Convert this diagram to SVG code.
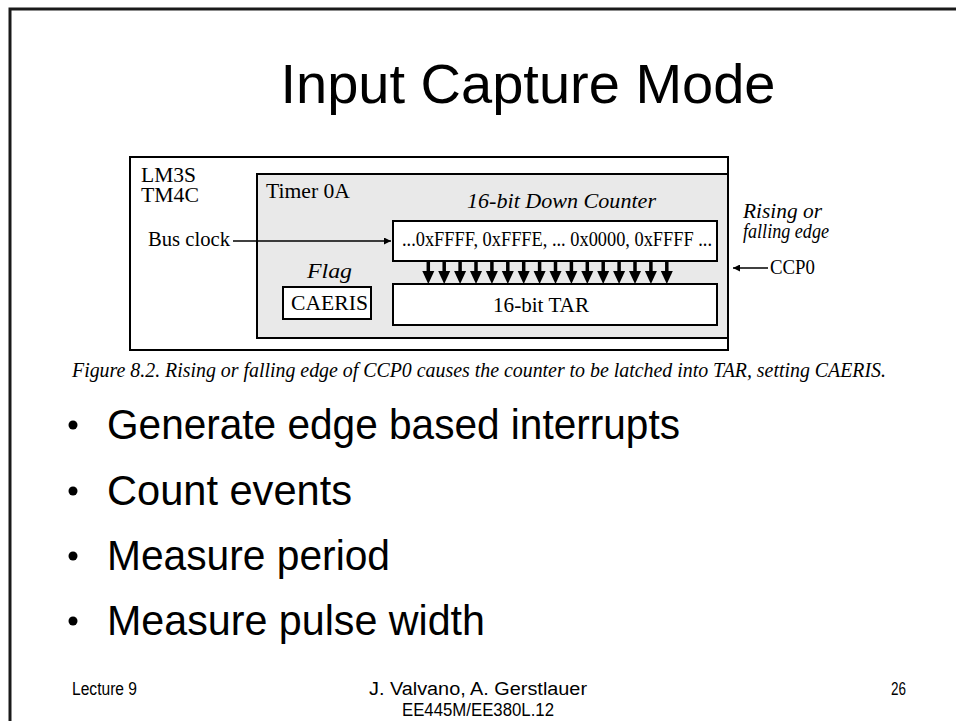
<svg xmlns="http://www.w3.org/2000/svg" width="956" height="721" viewBox="0 0 956 721">
<defs>
<style>
.sans{font-family:"Liberation Sans",Arial,sans-serif;fill:#000}
.serif{font-family:"Liberation Serif","Times New Roman",serif;fill:#000;font-size:20.5px}
.it{font-style:italic}
.box{fill:#fff;stroke:#000;stroke-width:2}
.wire{stroke:#000;stroke-width:1.5;fill:none}
.bus{stroke:#000;stroke-width:3.5;fill:none}
</style>
<marker id="ah" viewBox="0 0 10 10" refX="10" refY="5" markerWidth="11" markerHeight="7" markerUnits="userSpaceOnUse" orient="auto">
<path d="M0,0 L10,5 L0,10 Z" fill="#000"/>
</marker>
<g id="bigArrow">
<line x1="0" y1="262" x2="0" y2="273" class="bus"/>
<path d="M-6,271 L6,271 L0,284 Z" fill="#000"/>
</g>
</defs>
<rect width="956" height="721" fill="#fff"/>
<!-- slide frame -->
<path d="M10,721 V9 H956" fill="none" stroke="#1a1a1a" stroke-width="3"/>
<text class="sans" x="528" y="103" font-size="56" text-anchor="middle">Input Capture Mode</text>

<g id="chip">
<rect x="130" y="157" width="598" height="193" class="box"/>
<text class="serif" x="141" y="182" textLength="55" lengthAdjust="spacingAndGlyphs">LM3S</text>
<text class="serif" x="141" y="202" textLength="58" lengthAdjust="spacingAndGlyphs">TM4C</text>
</g>
<g id="timer">
<rect x="257" y="174" width="471" height="164" fill="#e9e9e9" stroke="#000" stroke-width="2"/>
<text class="serif" x="266" y="198" textLength="84" lengthAdjust="spacingAndGlyphs">Timer 0A</text>
</g>
<g id="counter">
<rect x="393" y="221" width="324" height="40" class="box"/>
<text class="serif it" x="467" y="208" textLength="189" lengthAdjust="spacingAndGlyphs">16-bit Down Counter</text>
<text class="serif" x="402" y="246" font-size="19" textLength="310" lengthAdjust="spacingAndGlyphs">...0xFFFF, 0xFFFE, ... 0x0000, 0xFFFF ...</text>
</g>
<g id="tar">
<rect x="393" y="284" width="324" height="41" class="box"/>
<text class="serif" x="493" y="312" textLength="96" lengthAdjust="spacingAndGlyphs">16-bit TAR</text>
</g>
<g id="flag">
<text class="serif it" x="307" y="278" textLength="45" lengthAdjust="spacingAndGlyphs">Flag</text>
<rect x="283" y="287" width="88" height="32" class="box"/>
<text class="serif" x="291" y="310" textLength="77" lengthAdjust="spacingAndGlyphs">CAERIS</text>
</g>
<g id="busclock">
<text class="serif" x="148" y="246" textLength="82" lengthAdjust="spacingAndGlyphs">Bus clock</text>
</g>
<g id="ccp0">
<text class="serif it" x="743" y="218" font-size="19" textLength="79" lengthAdjust="spacingAndGlyphs">Rising or</text>
<text class="serif it" x="743" y="238" font-size="19" textLength="86" lengthAdjust="spacingAndGlyphs">falling edge</text>
<text class="serif" x="770" y="274" textLength="45" lengthAdjust="spacingAndGlyphs">CCP0</text>
</g>

<g id="connectors">
<line x1="233" y1="241" x2="391" y2="241" class="wire" marker-end="url(#ah)"/>
<line x1="768" y1="268" x2="733" y2="268" class="wire" marker-end="url(#ah)"/>
<use href="#bigArrow" x="428.3"/>
<use href="#bigArrow" x="444.2"/>
<use href="#bigArrow" x="460.1"/>
<use href="#bigArrow" x="476"/>
<use href="#bigArrow" x="491.9"/>
<use href="#bigArrow" x="507.8"/>
<use href="#bigArrow" x="523.7"/>
<use href="#bigArrow" x="539.6"/>
<use href="#bigArrow" x="555.5"/>
<use href="#bigArrow" x="571.4"/>
<use href="#bigArrow" x="587.3"/>
<use href="#bigArrow" x="603.2"/>
<use href="#bigArrow" x="619.1"/>
<use href="#bigArrow" x="635"/>
<use href="#bigArrow" x="650.9"/>
<use href="#bigArrow" x="666.8"/>
</g>

<text class="serif it" x="72" y="377" font-size="16" textLength="814" lengthAdjust="spacingAndGlyphs">Figure 8.2. Rising or falling edge of CCP0 causes the counter to be latched into TAR, setting CAERIS.</text>

<g class="sans" font-size="42">
<circle cx="73" cy="425" r="4.5" fill="#000"/>
<text x="107" y="439" textLength="573" lengthAdjust="spacingAndGlyphs">Generate edge based interrupts</text>
<circle cx="73" cy="491" r="4.5" fill="#000"/>
<text x="107" y="505" textLength="245" lengthAdjust="spacingAndGlyphs">Count events</text>
<circle cx="73" cy="556" r="4.5" fill="#000"/>
<text x="107" y="570" textLength="283" lengthAdjust="spacingAndGlyphs">Measure period</text>
<circle cx="73" cy="621" r="4.5" fill="#000"/>
<text x="107" y="635" textLength="378" lengthAdjust="spacingAndGlyphs">Measure pulse width</text>
</g>

<g class="sans" font-size="18">
<text x="72" y="695" textLength="65" lengthAdjust="spacingAndGlyphs">Lecture 9</text>
<text x="478" y="695" text-anchor="middle" textLength="218" lengthAdjust="spacingAndGlyphs">J. Valvano, A. Gerstlauer</text>
<text x="478" y="716" text-anchor="middle" textLength="152" lengthAdjust="spacingAndGlyphs">EE445M/EE380L.12</text>
<text x="906" y="695" text-anchor="end" textLength="15" lengthAdjust="spacingAndGlyphs">26</text>
</g>
</svg>
